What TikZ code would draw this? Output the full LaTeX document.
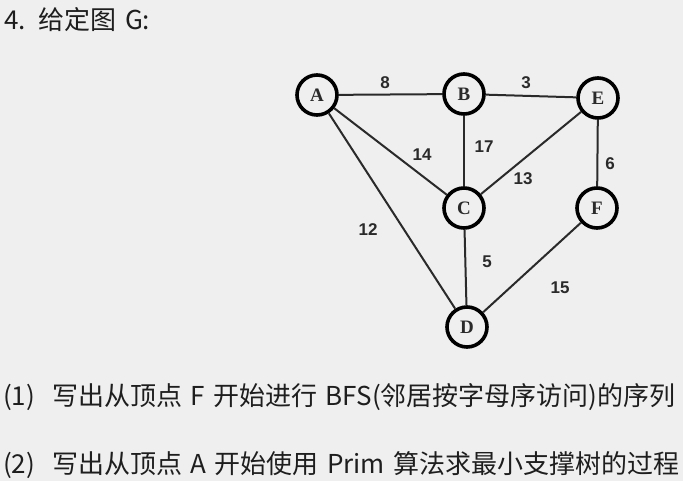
\documentclass[tikz,border=0pt]{standalone}
\usepackage{fontspec}
\newfontfamily\cjk[WordSpace=1.45]{Noto Sans CJK SC}
\newfontfamily\nodefont{Liberation Serif}
\newfontfamily\wfont{Liberation Sans}
\definecolor{bg}{HTML}{EFEFEF}
\definecolor{ink}{HTML}{1E1E1E}
\definecolor{edge}{HTML}{2A2A2A}
\tikzset{
  vtx/.style={circle, draw=black, line width=3.6pt, minimum size=40pt, inner sep=0pt, fill=bg,
    font=\nodefont\fontsize{19}{19}\selectfont\bfseries, text=edge},
  wlab/.style={font=\wfont\fontsize{17}{17}\selectfont\bfseries, text=edge, inner sep=0pt},
  gedge/.style={line width=2pt, draw=edge},
  txt/.style={font=\cjk\fontsize{26}{26}\selectfont, text=ink, anchor=west, inner sep=0pt}
}
\begin{document}
\begin{tikzpicture}[x=1pt,y=-1pt]
\fill[bg] (0,0) rectangle (683,481);
\useasboundingbox (0,0) rectangle (683,481);
\node[txt] (title) at (4,20) {4.\ \,给定图 G:};
\node[vtx] (A) at (317,95) {A};
\node[vtx] (B) at (464,94) {B};
\node[vtx] (E) at (598,98) {E};
\node[vtx] (C) at (464,208) {C};
\node[vtx] (F) at (597,208) {F};
\node[vtx] (D) at (467,327) {D};
\draw[gedge] (A) -- (B);
\draw[gedge] (B) -- (E);
\draw[gedge] (A) -- (C);
\draw[gedge] (B) -- (C);
\draw[gedge] (E) -- (C);
\draw[gedge] (E) -- (F);
\draw[gedge] (A) -- (D);
\draw[gedge] (C) -- (D);
\draw[gedge] (F) -- (D);
\node[wlab] (w8) at (385,83) {8};
\node[wlab] (w3) at (526,83) {3};
\node[wlab] (w17) at (484,147) {17};
\node[wlab] (w14) at (422,155) {14};
\node[wlab] (w13) at (523,179) {13};
\node[wlab] (w6) at (610,164) {6};
\node[wlab] (w12) at (368,230) {12};
\node[wlab] (w5) at (487,262) {5};
\node[wlab] (w15) at (560,288) {15};
\node[txt] (q1) at (3,397) {(1)\ \ 写出从顶点 F 开始进行 BFS(邻居按字母序访问)的序列};
\node[txt] (q2) at (3,465) {(2)\ \ 写出从顶点 A 开始使用 Prim 算法求最小支撑树的过程};
\end{tikzpicture}
\end{document}
